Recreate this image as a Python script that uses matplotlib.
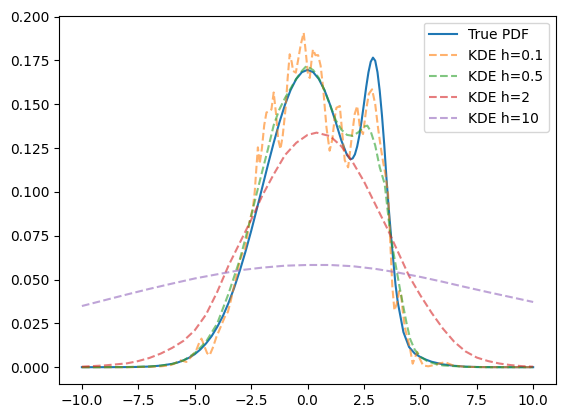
import matplotlib
matplotlib.use("Agg")
import matplotlib.pyplot as plt

# ---- True PDF ----
x_true = [-10, -9, -8, -7.5, -7, -6.5, -6, -5.75, -5.5, -5.25, -5, -4.75, -4.5, -4.25,
          -4, -3.75, -3.5, -3.25, -3, -2.75, -2.5, -2.25, -2, -1.75, -1.5, -1.25, -1,
          -0.75, -0.5, -0.25, 0, 0.25, 0.5, 0.75, 1, 1.25, 1.5, 1.75, 1.9, 2, 2.1, 2.2,
          2.3, 2.4, 2.5, 2.6, 2.7, 2.8, 2.9, 3.0, 3.1, 3.2, 3.3, 3.4, 3.5, 3.6, 3.72,
          3.9, 4.0, 4.25, 4.5, 4.75, 5, 5.25, 5.5, 6, 6.5, 7, 7.5, 8, 9, 10]
y_true = [0.0, 0.00001, 0.00006, 0.00015, 0.00037, 0.0009, 0.0019, 0.0027, 0.0039, 0.0054,
          0.0074, 0.0101, 0.0135, 0.0177, 0.0230, 0.0292, 0.0367, 0.0453, 0.0551, 0.0659,
          0.0776, 0.0901, 0.1029, 0.1157, 0.1280, 0.1395, 0.1497, 0.1581, 0.1644, 0.1683,
          0.1696, 0.1683, 0.1644, 0.1581, 0.1497, 0.1398, 0.1293, 0.1210, 0.1186, 0.1191,
          0.1214, 0.1259, 0.1324, 0.1409, 0.1502, 0.1598, 0.1682, 0.1742, 0.1766, 0.1748,
          0.1683, 0.1576, 0.1435, 0.1269, 0.1075, 0.0905, 0.0720, 0.0470, 0.0370, 0.0200,
          0.0115, 0.0078, 0.0058, 0.0043, 0.0031, 0.0016, 0.0008, 0.0003, 0.0001, 0.00005,
          0.0, 0.0]

# ---- KDE h=0.1 ----
x_h01 = [-10, -8, -7, -6.5, -6.11, -5.9, -5.67, -5.5, -5.37, -5.15, -4.93, -4.8, -4.7,
         -4.56, -4.45, -4.34, -4.2, -4.04, -3.85, -3.67, -3.53, -3.4, -3.3, -3.15, -3.0,
         -2.88, -2.78, -2.67, -2.56, -2.42, -2.34, -2.27, -2.2, -2.12, -2.02, -1.92, -1.82,
         -1.7, -1.6, -1.5, -1.4, -1.3, -1.2, -1.1, -0.97, -0.88, -0.79, -0.7, -0.64, -0.52,
         -0.42, -0.3, -0.17, -0.08, 0.02, 0.1, 0.17, 0.24, 0.35, 0.47, 0.58, 0.69, 0.84,
         0.98, 1.1, 1.2, 1.28, 1.43, 1.55, 1.65, 1.8, 1.95, 2.09, 2.2, 2.33, 2.46, 2.6,
         2.72, 2.86, 3.0, 3.13, 3.25, 3.35, 3.45, 3.57, 3.67, 3.76, 3.85, 3.95, 4.07, 4.15,
         4.22, 4.31, 4.42, 4.53, 4.66, 4.78, 4.86, 4.97, 5.12, 5.35, 5.6, 5.86, 6.1, 6.45,
         7, 8, 10]
y_h01 = [0.0, 0.0, 0.0002, 0.0005, 0.001, 0.002, 0.004, 0.0035, 0.003, 0.006, 0.0097,
         0.014, 0.0163, 0.0116, 0.008, 0.0068, 0.011, 0.0172, 0.023, 0.0286, 0.0315, 0.038,
         0.0438, 0.052, 0.0609, 0.065, 0.0666, 0.075, 0.0836, 0.091, 0.100, 0.113, 0.1254,
         0.116, 0.125, 0.138, 0.1453, 0.146, 0.147, 0.1567, 0.145, 0.130, 0.1244, 0.132,
         0.148, 0.165, 0.1785, 0.174, 0.169, 0.168, 0.175, 0.184, 0.1908, 0.180, 0.167,
         0.165, 0.174, 0.1813, 0.178, 0.178, 0.172, 0.1595, 0.1367, 0.1235, 0.130, 0.142,
         0.148, 0.149, 0.132, 0.118, 0.114, 0.130, 0.1444, 0.149, 0.136, 0.133, 0.147, 0.156,
         0.1585, 0.150, 0.136, 0.125, 0.117, 0.110, 0.0988, 0.0704, 0.0457, 0.0324, 0.036,
         0.0435, 0.041, 0.032, 0.0229, 0.017, 0.0116, 0.002, 0.006, 0.0087, 0.005, 0.001,
         0.0005, 0.0012, 0.0022, 0.0028, 0.001, 0.0002, 0.0, 0.0]

# ---- KDE h=0.5 ----
x_h05 = [-10, -8, -7, -6.5, -6, -5.5, -5, -4.5, -4, -3.5, -3, -2.75, -2.5, -2.25, -2,
         -1.75, -1.5, -1.25, -1, -0.75, -0.5, -0.25, -0.05, 0.25, 0.5, 0.75, 1.0, 1.25,
         1.5, 1.75, 2.0, 2.25, 2.5, 2.65, 2.8, 3.0, 3.2, 3.42, 3.65, 3.8, 4.09, 4.39, 4.55,
         4.75, 5.0, 5.3, 5.7, 6, 7, 8, 10]
y_h05 = [0.0, 0.0001, 0.0004, 0.0009, 0.0018, 0.0038, 0.008, 0.0145, 0.025, 0.042,
         0.0615, 0.0735, 0.0862, 0.0993, 0.1121, 0.1246, 0.138, 0.147, 0.1535, 0.159,
         0.1645, 0.169, 0.1718, 0.1695, 0.165, 0.158, 0.1495, 0.141, 0.1355, 0.1325, 0.132,
         0.134, 0.1372, 0.1378, 0.1345, 0.1265, 0.114, 0.1045, 0.078, 0.066, 0.045, 0.025,
         0.016, 0.010, 0.006, 0.0035, 0.0017, 0.001, 0.0002, 0.0, 0.0]

# ---- KDE h=2 ----
x_h2 = [-10, -9, -8, -7.5, -7, -6.5, -6, -5.5, -5, -4.5, -4, -3.5, -3, -2.5, -2, -1.5,
        -1, -0.5, 0, 0.4, 1, 1.5, 2, 2.5, 3, 3.5, 4, 4.5, 5, 5.5, 6, 6.5, 7, 7.5, 8,
        8.5, 9, 9.5, 10]
y_h2 = [0.0003, 0.001, 0.0022, 0.0035, 0.0053, 0.0078, 0.011, 0.015, 0.021, 0.030,
        0.043, 0.058, 0.071, 0.084, 0.098, 0.110, 0.121, 0.128, 0.1325, 0.1338, 0.1318,
        0.126, 0.117, 0.106, 0.093, 0.080, 0.066, 0.052, 0.041, 0.031, 0.022, 0.0145,
        0.009, 0.0055, 0.0035, 0.0021, 0.0012, 0.0006, 0.0003]

# ---- KDE h=10 ----
x_h10 = [-10, -9, -8, -7, -6, -5, -4, -3, -2, -1, 0, 1, 2, 3, 4, 5, 6, 7, 8, 9, 10]
y_h10 = [0.0349, 0.0382, 0.0415, 0.0447, 0.0477, 0.0506, 0.0530, 0.0553, 0.0568, 0.0579,
         0.0583, 0.0583, 0.0576, 0.0561, 0.0540, 0.0515, 0.0487, 0.0457, 0.0428, 0.0400,
         0.0372]

labels = ["True PDF", "KDE h=0.1", "KDE h=0.5", "KDE h=2", "KDE h=10"]

fig = plt.figure(figsize=(5.65, 4.18), dpi=100)
ax = fig.add_axes([0.105, 0.0813, 0.8786, 0.8811])

ax.plot(x_true, y_true, label=labels[0], color="C0", lw=1.5)
ax.plot(x_h01, y_h01, "--", label=labels[1], color="C1", alpha=0.6, lw=1.5)
ax.plot(x_h05, y_h05, "--", label=labels[2], color="C2", alpha=0.6, lw=1.5)
ax.plot(x_h2, y_h2, "--", label=labels[3], color="C3", alpha=0.6, lw=1.5)
ax.plot(x_h10, y_h10, "--", label=labels[4], color="C4", alpha=0.6, lw=1.5)

ax.set_xlim(-11, 11)
ax.set_ylim(-0.0096, 0.2005)
ax.legend(loc="upper right")

fig.savefig("out.png", dpi=100)
